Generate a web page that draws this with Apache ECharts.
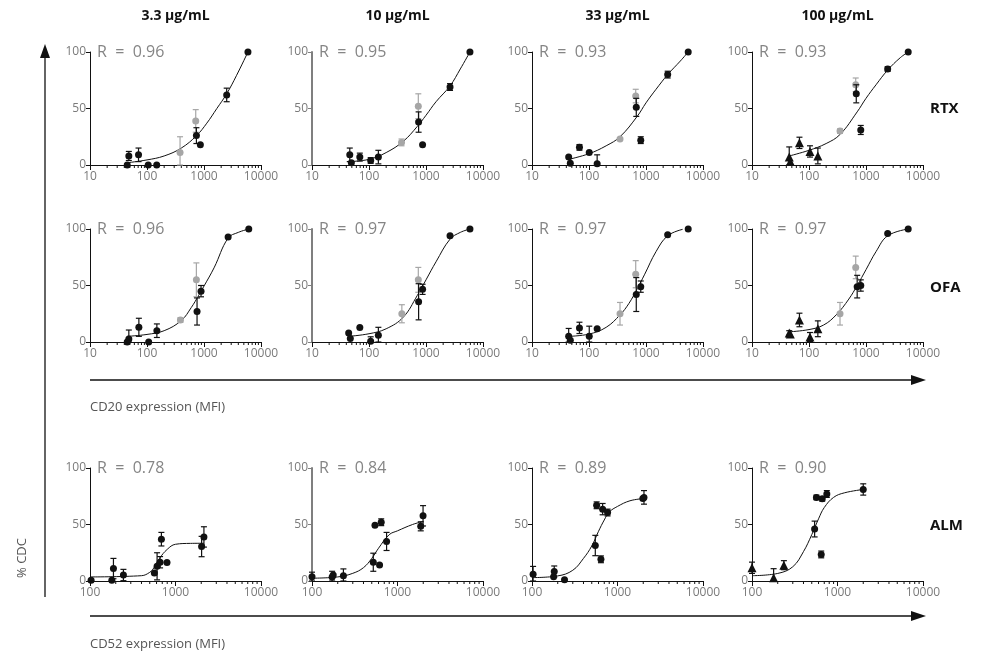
<!DOCTYPE html>
<html><head><meta charset="utf-8">
<script src="https://cdn.jsdelivr.net/npm/echarts@6/dist/echarts.min.js"></script>
<style>html,body{margin:0;padding:0;background:#fff}#c{width:984px;height:656px}</style>
</head><body><div id="c"></div><script>
// ---------- labels ----------
const colTitles = ['3.3 µg/mL', '10 µg/mL', '33 µg/mL', '100 µg/mL'];
const rowLabels = ['RTX', 'OFA', 'ALM'];
const rValues = [['0.96', '0.95', '0.93', '0.93'], ['0.96', '0.97', '0.97', '0.97'], ['0.78', '0.84', '0.89', '0.90']];
const xTicksCD20 = [10, 100, 1000, 10000];
const xTicksCD52 = [100, 1000, 10000];
const yTicks = [0, 50, 100];
const minorMult = [2, 3, 4, 5, 6, 7, 8, 9];
const xTitles = ['CD20 expression (MFI)', 'CD52 expression (MFI)'];
const yTitle = '% CDC';

// ---------- data: [MFI, %CDC, error] ----------
// RTX
const rtx1Black = [[45,0,0],[48,8,4],[71,9,6],[105,0,0],[148,0,0],[736,26,7],[863,18,0],[2500,62,6],[5900,100,0]];
const rtx1Gray = [[380,11,14],[716,39,10]];
const rtx1Tri = [];
const rtx1Curve = [[45,2],[100,4.5],[200,8],[400,15],[740,26],[1120,37],[1680,50],[2500,63],[3700,79],[5900,100]];

const rtx2Black = [[46,9,6],[49,2,0],[69,7,3.5],[107,4,2.5],[146,7,6],[742,38,9],[871,18,0],[2640,69,3],[5900,100,0]];
const rtx2Gray = [[372,20,3],[733,52,11]];
const rtx2Tri = [];
const rtx2Curve = [[45,3],[100,5],[200,11],[400,21],[700,34],[1000,44],[1500,56],[2640,70],[4000,85],[5900,100]];

const rtx3Black = [[44,7,0],[47,1.5,0],[68,15.6,2.5],[101,11,0],[139,1,8],[675,51,8],[809,22,3],[2400,80,3],[5500,100,0]];
const rtx3Gray = [[350,23,0],[660,61,6]];
const rtx3Tri = [];
const rtx3Curve = [[44,5],[100,10],[200,17],[350,25],[700,43],[1000,55],[1500,67],[2400,80],[4000,92],[5500,100]];

const rtx4Black = [[675,63,8],[809,31,4],[2400,85,2],[5500,100,0]];
const rtx4Gray = [[350,30,2],[660,71,6]];
const rtx4Tri = [[45,7,9],[47,3,0],[68,19.6,5],[104,12,5],[143,8,7]];
const rtx4Curve = [[45,8],[100,13],[200,19],[350,27],[700,47],[1000,59],[1500,71],[2400,84],[4000,95],[5500,100]];

// OFA
const ofa1Black = [[45,0,0],[48,2.6,8],[72,13,8],[107,0,0],[149,10,6],[755,27,12],[887,45,5],[2650,93,0],[6100,100,0]];
const ofa1Gray = [[386,19.5,2],[735,55,15]];
const ofa1Tri = [];
const ofa1Curve = [[45,5],[100,6.7],[200,10],[400,19],[600,30.6],[800,41],[1000,49.5],[1500,65.6],[2650,92],[4000,97],[6100,100]];

const ofa2Black = [[44,8,0],[47,3,0],[69,12.8,0],[107,0.6,4],[146,6,7],[742,35.6,16],[871,46.6,4.5],[2640,94,0],[5900,100,0]];
const ofa2Gray = [[377,25,8],[733,55,11]];
const ofa2Tri = [];
const ofa2Curve = [[44,5],[100,7.3],[200,11.7],[400,22],[700,41],[1000,55],[1500,71],[2640,91],[4000,97],[5900,100]];

const ofa3Black = [[44,5,7],[47,1.5,0],[68,12.5,5],[101,5,9],[139,11.7,0],[675,42,15],[809,49,5],[2400,95,0],[5500,100,0]];
const ofa3Gray = [[350,25,10],[660,60,12]];
const ofa3Tri = [];
const ofa3Curve = [[44,5],[100,7],[200,13],[350,24],[500,34],[700,47],[950,60],[1500,80],[2400,94],[4400,99.7]];

const ofa4Black = [[700,49,10],[810,50,5],[2400,96,0],[5500,100,0]];
const ofa4Gray = [[350,25,10],[660,66,10]];
const ofa4Tri = [[45,8,2],[47,7,0],[68,19.5,6],[104,4.4,4],[143,11.7,7]];
const ofa4Curve = [[45,9],[100,11],[180,15],[300,24],[500,38],[700,50],[1000,64],[1500,80],[2400,94],[5500,100]];

// ALM
const alm1Black = [[103,0.6,0],[180,0.6,0],[188,11,9],[246,5.3,5],[566,7,0],[609,13,12],[660,16.6,5],[684,37,6],[795,16.3,0],[2020,30.5,9],[2150,39,9]];
const alm1Gray = [];
const alm1Tri = [];
const alm1Curve = [[100,3.6],[400,4.7],[500,7.7],[560,11.8],[650,20],[800,28],[1000,32.5],[1500,33.3],[2150,33.4]];

const alm2Black = [[100,3.8,4],[172,3.6,5],[177,5.3,0],[233,4.7,6],[521,16.6,8],[545,49.4,0],[617,14.2,0],[645,52,3],[745,35,8],[1870,48.4,4],[1990,57.7,9]];
const alm2Gray = [];
const alm2Tri = [];
const alm2Curve = [[100,2.5],[200,3.6],[300,6.8],[400,11.8],[500,20],[600,29],[800,41],[1000,44.4],[1500,50],[2000,52.7]];

const alm3Black = [[103,5.9,7],[179,3.8,0],[182,8.3,5],[240,1.2,0],[550,31.4,9],[570,67,3],[640,19.2,3],[670,63.6,5],[766,60.6,3],[1980,73,0],[2040,74,6]];
const alm3Gray = [];
const alm3Tri = [];
const alm3Curve = [[100,3],[200,4.5],[300,9.5],[400,20],[500,31],[600,44],[700,54],[800,61],[1000,66],[1400,71],[2040,73]];

const alm4Black = [[540,46,7],[567,74,2],[645,23.5,3],[663,72.7,2],[750,77,3],[2000,81,5]];
const alm4Gray = [];
const alm4Tri = [[100,11.7,5],[179,2.9,8],[236,14,4]];
const alm4Curve = [[100,4.7],[200,6.7],[300,12.6],[400,26],[500,41],[600,55],[700,65],[900,74],[1200,78],[2000,81]];

const panels = [
  [rtx1Black, rtx1Gray, rtx1Tri, rtx1Curve], [rtx2Black, rtx2Gray, rtx2Tri, rtx2Curve],
  [rtx3Black, rtx3Gray, rtx3Tri, rtx3Curve], [rtx4Black, rtx4Gray, rtx4Tri, rtx4Curve],
  [ofa1Black, ofa1Gray, ofa1Tri, ofa1Curve], [ofa2Black, ofa2Gray, ofa2Tri, ofa2Curve],
  [ofa3Black, ofa3Gray, ofa3Tri, ofa3Curve], [ofa4Black, ofa4Gray, ofa4Tri, ofa4Curve],
  [alm1Black, alm1Gray, alm1Tri, alm1Curve], [alm2Black, alm2Gray, alm2Tri, alm2Curve],
  [alm3Black, alm3Gray, alm3Tri, alm3Curve], [alm4Black, alm4Gray, alm4Tri, alm4Curve]
];

// ---------- layout ----------
const LEFTS = [90, 312, 532, 752];
const TOPS = [52, 229, 468];
const W = 171, H = 113;
const BLACK = '#111111', GRAY = '#a6a6a6', LABEL = '#7a7a7a';
const FONT = '"Open Sans", "DejaVu Sans", sans-serif';

const chart = echarts.init(document.getElementById('c'), null, { renderer: 'canvas' });

const grids = [], xAxes = [], yAxes = [], series = [], graphics = [];

function errRender(color) {
  return function (params, api) {
    const x = api.value(0), y = api.value(1), e = api.value(2);
    if (!e) return null;
    const lo = api.coord([x, Math.max(0, y - e)]);
    const hi = api.coord([x, y + e]);
    const cap = 3;
    return {
      type: 'group',
      children: [
        { type: 'line', shape: { x1: lo[0], y1: lo[1], x2: hi[0], y2: hi[1] }, style: { stroke: color, lineWidth: 1.2 } },
        { type: 'line', shape: { x1: hi[0] - cap, y1: hi[1], x2: hi[0] + cap, y2: hi[1] }, style: { stroke: color, lineWidth: 1.2 } },
        { type: 'line', shape: { x1: lo[0] - cap, y1: lo[1], x2: lo[0] + cap, y2: lo[1] }, style: { stroke: color, lineWidth: 1.2 } }
      ]
    };
  };
}

function minorRender(params, api) {
  const p = api.coord([api.value(0), 0]);
  return { type: 'line', shape: { x1: p[0], y1: p[1], x2: p[0], y2: p[1] + 3 }, style: { stroke: BLACK, lineWidth: 1 } };
}

for (let r = 0; r < 3; r++) {
  const ticks = r < 2 ? xTicksCD20 : xTicksCD52;
  const minors = [];
  for (let d = 0; d < ticks.length - 1; d++) minorMult.forEach(m => minors.push([ticks[d] * m, 0]));
  for (let c = 0; c < 4; c++) {
    const i = r * 4 + c;
    const yLineColor = c === 1 ? '#7f7f7f' : BLACK;
    const yLineWidth = c === 1 ? 2 : 1;
    grids.push({ left: LEFTS[c], top: TOPS[r], width: W, height: H });
    xAxes.push({
      type: 'log', logBase: 10, gridIndex: i, min: ticks[0], max: ticks[ticks.length - 1],
      axisLine: { show: true, lineStyle: { color: BLACK, width: 1 } },
      axisTick: { show: true, length: 5, lineStyle: { color: BLACK } },
      axisLabel: { color: LABEL, fontSize: 12, margin: 6, fontFamily: FONT, showMinLabel: true, showMaxLabel: true, formatter: v => String(Math.round(v)) },
      splitLine: { show: false }
    });
    yAxes.push({
      type: 'value', gridIndex: i, min: yTicks[0], max: yTicks[yTicks.length - 1], interval: 50,
      axisLine: { show: true, lineStyle: { color: yLineColor, width: yLineWidth } },
      axisTick: { show: true, length: 4, lineStyle: { color: yLineColor } },
      axisLabel: { color: LABEL, fontSize: 12, margin: 4, fontFamily: FONT },
      splitLine: { show: false }
    });
    const [blk, gry, tri, curve] = panels[i];
    series.push({ type: 'custom', xAxisIndex: i, yAxisIndex: i, data: minors, renderItem: minorRender, clip: false, silent: true, z: 1 });
    series.push({ type: 'line', xAxisIndex: i, yAxisIndex: i, data: curve, smooth: 0.4, showSymbol: false, symbol: 'none', lineStyle: { color: BLACK, width: 1 }, z: 2, clip: false, silent: true });
    series.push({ type: 'custom', xAxisIndex: i, yAxisIndex: i, data: gry, renderItem: errRender(GRAY), clip: false, z: 3 });
    series.push({ type: 'scatter', xAxisIndex: i, yAxisIndex: i, data: gry, symbol: 'circle', symbolSize: 7, itemStyle: { color: GRAY, opacity: 1 }, clip: false, z: 3 });
    series.push({ type: 'custom', xAxisIndex: i, yAxisIndex: i, data: blk, renderItem: errRender(BLACK), clip: false, z: 4 });
    series.push({ type: 'scatter', xAxisIndex: i, yAxisIndex: i, data: blk, symbol: 'circle', symbolSize: 7, itemStyle: { color: BLACK, opacity: 1 }, clip: false, z: 4 });
    series.push({ type: 'custom', xAxisIndex: i, yAxisIndex: i, data: tri, renderItem: errRender(BLACK), clip: false, z: 4 });
    series.push({ type: 'scatter', xAxisIndex: i, yAxisIndex: i, data: tri, symbol: 'triangle', symbolSize: 9, itemStyle: { color: BLACK, opacity: 1 }, clip: false, z: 4 });

    graphics.push({ type: 'text', left: LEFTS[c] + 7, top: TOPS[r] - 8, style: { text: 'R  =  ' + rValues[r][c], fill: '#858585', font: '16px ' + FONT } });
  }
  graphics.push({ type: 'text', left: 930, top: [101, 280, 518][r], style: { text: rowLabels[r], fill: '#111', font: 'bold 15px ' + FONT } });
}
colTitles.forEach((t, c) => {
  graphics.push({ type: 'text', x: LEFTS[c] + W / 2, y: 9, style: { text: t, fill: '#111', font: 'bold 14px ' + FONT, textAlign: 'center' } });
});

// arrows & axis titles
graphics.push({ type: 'line', shape: { x1: 45, y1: 597, x2: 45, y2: 52 }, style: { stroke: '#111', lineWidth: 1.3 } });
graphics.push({ type: 'polygon', shape: { points: [[40, 58], [50, 58], [45, 44]] }, style: { fill: '#111' } });
[380, 616].forEach(y => {
  graphics.push({ type: 'line', shape: { x1: 90, y1: y, x2: 915, y2: y }, style: { stroke: '#111', lineWidth: 1.3 } });
  graphics.push({ type: 'polygon', shape: { points: [[911, y - 5], [911, y + 5], [926, y]] }, style: { fill: '#111' } });
});
graphics.push({ type: 'text', left: 90, top: 401, style: { text: xTitles[0], fill: '#555', font: '13px ' + FONT } });
graphics.push({ type: 'text', left: 90, top: 638, style: { text: xTitles[1], fill: '#555', font: '13px ' + FONT } });
graphics.push({ type: 'text', x: 22, y: 558, rotation: Math.PI / 2, style: { text: yTitle, fill: '#555', font: '13px ' + FONT, textAlign: 'center', textVerticalAlign: 'middle' } });

chart.setOption({
  animation: false,
  grid: grids, xAxis: xAxes, yAxis: yAxes, series: series, graphic: graphics
});
</script></body></html>
